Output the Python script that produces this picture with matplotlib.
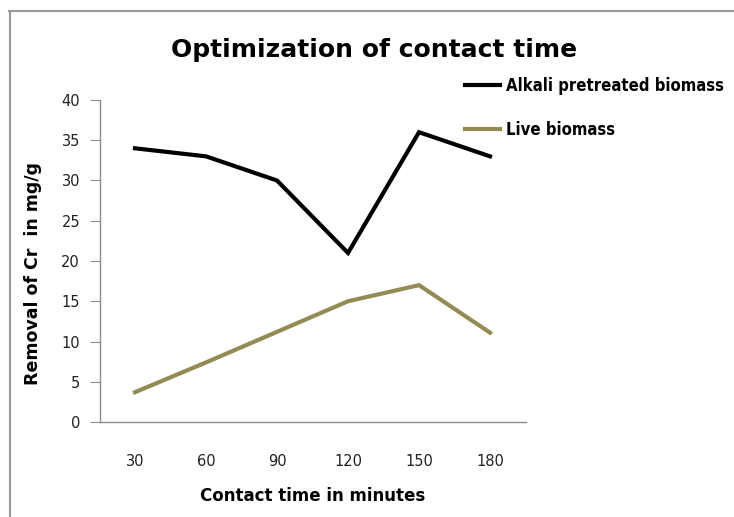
import matplotlib
matplotlib.use("Agg")
import matplotlib.pyplot as plt
from matplotlib.lines import Line2D

# Contact time optimisation data
times = ["30", "60", "90", "120", "150", "180"]
alkali = [34.0, 33.0, 30.0, 21.0, 36.0, 33.0]
live = [3.7, 7.4, 11.2, 15.0, 17.0, 11.1]
series_names = ["Alkali pretreated biomass", "Live biomass"]
yticks = [0, 5, 10, 15, 20, 25, 30, 35, 40]

W, H = 734, 517
fig = plt.figure(figsize=(W / 100, H / 100), dpi=100)
fig.patch.set_facecolor("white")

def fx(px):
    return px / W

def fy(py):
    return 1 - py / H

ax = fig.add_axes([fx(99.5), fy(422), fx(525.5) - fx(99.5), fy(100) - fy(422)])

x = list(range(len(times)))
l1, = ax.plot(x, alkali, color="black", lw=3.0, solid_joinstyle="miter")
l2, = ax.plot(x, live, color="#948A54", lw=3.0, solid_joinstyle="miter")

ax.set_xlim(-0.5, len(times) - 0.5)
ax.set_ylim(0, 40)
ax.set_yticks(yticks)
ax.set_xticks(x)
ax.set_xticklabels(times)

for s in ["top", "right"]:
    ax.spines[s].set_visible(False)
for s in ["left", "bottom"]:
    ax.spines[s].set_color("#8c8c8c")
    ax.spines[s].set_linewidth(1.0)

ax.tick_params(axis="y", direction="out", length=7, color="#8c8c8c", pad=7)
ax.tick_params(axis="x", length=0, pad=23)
for lab in ax.get_yticklabels() + ax.get_xticklabels():
    lab.set_fontfamily("DejaVu Sans")
    lab.set_fontsize(10.5)
    lab.set_color("#222222")

ax.set_xlabel("Contact time in minutes", fontsize=12, fontweight="bold",
              family="DejaVu Sans", labelpad=13)
ax.set_ylabel("Removal of Cr  in mg/g", fontsize=12.5, fontweight="bold",
              family="DejaVu Sans")
ax.yaxis.set_label_coords(-0.135, 0.46)

fig.text(fx(374), fy(50), "Optimization of contact time", ha="center", va="center",
         fontsize=18, fontweight="bold", family="DejaVu Sans")

narrow = ["Liberation Sans Narrow", "DejaVu Sans Condensed", "DejaVu Sans"]
leg = fig.legend([l1, l2], series_names, loc="upper left",
                 bbox_to_anchor=(fx(450), fy(62)), frameon=False,
                 prop={"family": narrow, "weight": "bold", "size": 12,
                       "stretch": "condensed"},
                 handlelength=2.1, handletextpad=0.35, labelspacing=1.55)

# outer border, left and top edges
fig.add_artist(Line2D([fx(9.5), fx(9.5)], [fy(11), 0], color="#9a9a9a", lw=1.5))
fig.add_artist(Line2D([fx(9), 1], [fy(11), fy(11)], color="#9a9a9a", lw=1.5))

fig.savefig("out.png", dpi=100, facecolor="white")
